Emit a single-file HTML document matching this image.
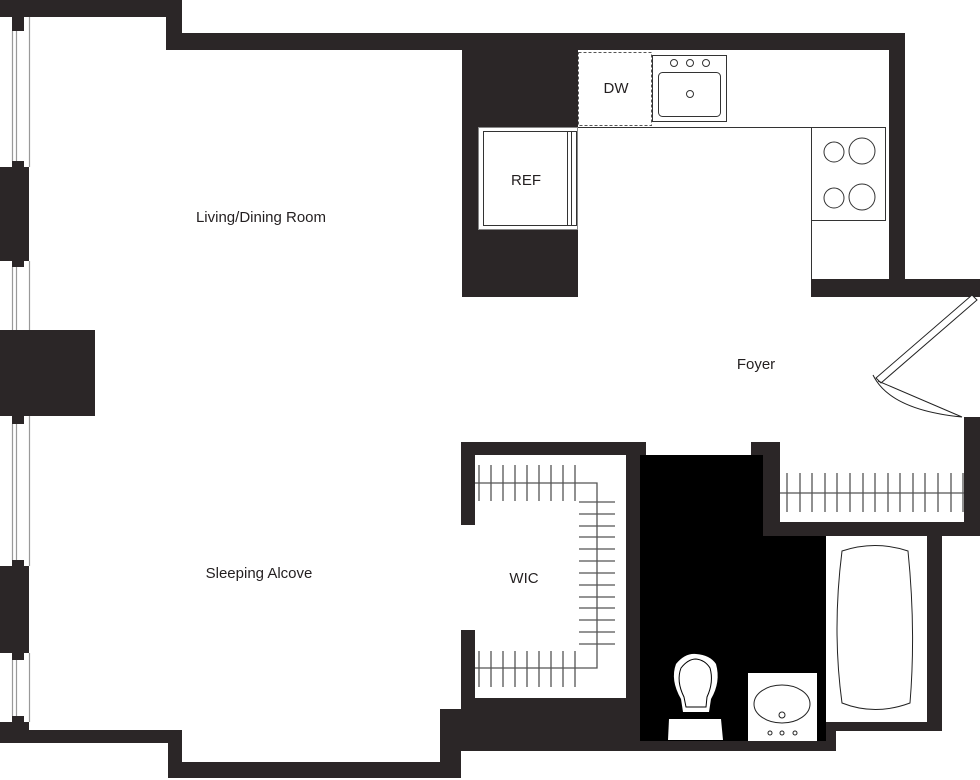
<!DOCTYPE html>
<html><head><meta charset="utf-8"><style>
html,body{margin:0;padding:0;background:#fff;width:980px;height:780px;overflow:hidden}
svg{display:block}
text{font-family:"Liberation Sans",sans-serif;fill:#231f20}
</style></head><body>
<svg width="980" height="780" viewBox="0 0 980 780" xmlns="http://www.w3.org/2000/svg">
<g fill="#2b2627">
<rect x="0" y="0" width="182" height="17"/>
<rect x="166" y="17" width="16" height="33"/>
<rect x="166" y="33" width="739" height="17"/>
<rect x="889" y="33" width="16" height="264"/>
<rect x="811" y="279" width="169" height="18"/>
<rect x="462" y="50" width="116" height="247"/>
<rect x="12" y="17" width="12" height="14"/>
<rect x="0" y="167" width="29" height="94"/>
<rect x="12" y="161" width="12" height="106"/>
<rect x="0" y="330" width="95" height="86"/>
<rect x="12" y="416" width="12" height="8"/>
<rect x="0" y="566" width="29" height="87"/>
<rect x="12" y="560" width="12" height="100"/>
<rect x="0" y="722" width="29" height="21"/>
<rect x="12" y="716" width="12" height="8"/>
<rect x="29" y="730" width="153" height="13"/>
<rect x="168" y="730" width="14" height="48"/>
<rect x="168" y="762" width="284" height="16"/>
<rect x="440" y="709" width="21" height="69"/>
<rect x="461" y="442" width="14" height="83"/>
<rect x="461" y="630" width="14" height="121"/>
<rect x="461" y="442" width="185" height="13"/>
<rect x="626" y="442" width="14" height="309"/>
<rect x="461" y="698" width="179" height="53"/>
<rect x="640" y="741" width="196" height="10"/>
<rect x="826" y="722" width="10" height="29"/>
<rect x="751" y="442" width="29" height="13"/>
<rect x="763" y="442" width="17" height="94"/>
<rect x="763" y="522" width="217" height="14"/>
<rect x="964" y="417" width="16" height="119"/>
<rect x="927" y="522" width="15" height="209"/>
<rect x="826" y="722" width="116" height="9"/>
</g>
<path d="M640 455H763V536H826V741H640Z" fill="#000"/>
<g stroke="#999" stroke-width="1.2">
<line x1="12.5" y1="31" x2="12.5" y2="161"/><line x1="16.5" y1="31" x2="16.5" y2="161"/><line x1="29.5" y1="17" x2="29.5" y2="167"/>
<line x1="12.5" y1="267" x2="12.5" y2="330"/><line x1="16.5" y1="267" x2="16.5" y2="330"/><line x1="29.5" y1="261" x2="29.5" y2="330"/>
<line x1="12.5" y1="424" x2="12.5" y2="560"/><line x1="16.5" y1="424" x2="16.5" y2="560"/><line x1="29.5" y1="416" x2="29.5" y2="566"/>
<line x1="12.5" y1="660" x2="12.5" y2="716"/><line x1="16.5" y1="660" x2="16.5" y2="716"/><line x1="29.5" y1="653" x2="29.5" y2="722"/>
</g>
<g fill="none" stroke="#333" stroke-width="1">
<rect x="478.5" y="127.5" width="99" height="102" fill="#fff" stroke="#888"/>
<rect x="483.5" y="131.5" width="93" height="94"/>
<line x1="567.5" y1="131" x2="567.5" y2="226"/><line x1="571.5" y1="131" x2="571.5" y2="226"/>
<rect x="578.5" y="52.5" width="73" height="73" stroke-dasharray="3,2" stroke="#555"/>
<rect x="652.5" y="55.5" width="74" height="66"/>
<rect x="658.5" y="72.5" width="62" height="44" rx="4"/>
<circle cx="674" cy="63" r="3.5"/><circle cx="690" cy="63" r="3.5"/><circle cx="706" cy="63" r="3.5"/>
<circle cx="690" cy="94" r="3.5"/>
<line x1="578" y1="127.5" x2="886" y2="127.5"/>
<rect x="811.5" y="127.5" width="74" height="93"/>
<line x1="811.5" y1="220" x2="811.5" y2="279"/>
<circle cx="834" cy="152" r="10"/><circle cx="862" cy="151" r="13"/>
<circle cx="834" cy="198" r="10"/><circle cx="862" cy="197" r="13"/>
</g>
<g fill="none" stroke="#222" stroke-width="1">
<polygon points="972,295 977,300 881,383 876,378" fill="#fff"/>
<path d="M873,375 Q890,410 962,417 L878,381"/>
</g>
<g stroke="#555" stroke-width="1.3" fill="none">
<polyline points="475,483 597,483 597,668 475,668"/>
<g id="tt"><line x1="479" y1="465" x2="479" y2="501"/><line x1="491" y1="465" x2="491" y2="501"/><line x1="503" y1="465" x2="503" y2="501"/><line x1="515" y1="465" x2="515" y2="501"/><line x1="527" y1="465" x2="527" y2="501"/><line x1="539" y1="465" x2="539" y2="501"/><line x1="551" y1="465" x2="551" y2="501"/><line x1="563" y1="465" x2="563" y2="501"/><line x1="575" y1="465" x2="575" y2="501"/></g>
<use href="#tt" transform="translate(0,186)"/>
<line x1="579" y1="502" x2="615" y2="502"/><line x1="579" y1="514" x2="615" y2="514"/><line x1="579" y1="526" x2="615" y2="526"/><line x1="579" y1="537" x2="615" y2="537"/><line x1="579" y1="549" x2="615" y2="549"/><line x1="579" y1="561" x2="615" y2="561"/><line x1="579" y1="573" x2="615" y2="573"/><line x1="579" y1="585" x2="615" y2="585"/><line x1="579" y1="597" x2="615" y2="597"/><line x1="579" y1="608" x2="615" y2="608"/><line x1="579" y1="620" x2="615" y2="620"/><line x1="579" y1="632" x2="615" y2="632"/><line x1="579" y1="644" x2="615" y2="644"/>
<line x1="780" y1="493" x2="964" y2="493"/>
<g id="ft"><line x1="787" y1="473" x2="787" y2="512"/><line x1="800" y1="473" x2="800" y2="512"/><line x1="812" y1="473" x2="812" y2="512"/><line x1="825" y1="473" x2="825" y2="512"/><line x1="837" y1="473" x2="837" y2="512"/><line x1="850" y1="473" x2="850" y2="512"/><line x1="863" y1="473" x2="863" y2="512"/></g>
<use href="#ft" transform="translate(88,0)"/>
<line x1="963" y1="473" x2="963" y2="512"/>
</g>
<rect x="827" y="536" width="100" height="186" fill="#fff"/>
<path d="M842,551 Q875,540 908,551 Q916,630 910,703 Q875,716 842,703 Q832,630 842,551Z" fill="none" stroke="#222"/>
<path d="M669,719 H721 L723,740 H668Z" fill="#fff"/>
<path d="M683,712 L681,699 Q670,680 676,664 Q685,653 696,654 Q710,655 716,664 Q721,682 711,699 L709,712Z" fill="#fff"/>
<path d="M686,707 L684,697 Q676,681 681,668 Q688,659 696,659 Q705,660 710,668 Q714,682 707,697 L706,707Z" fill="none" stroke="#000"/>
<rect x="748" y="673" width="69" height="68" fill="#fff"/>
<g fill="none" stroke="#222">
<ellipse cx="782" cy="704" rx="28" ry="19"/><circle cx="782" cy="715" r="3"/>
<circle cx="770" cy="733" r="2"/><circle cx="782" cy="733" r="2"/><circle cx="795" cy="733" r="2"/>
</g>
<text x="261" y="222" font-size="15" text-anchor="middle">Living/Dining Room</text>
<text x="259" y="578" font-size="15" text-anchor="middle">Sleeping Alcove</text>
<text x="756" y="369" font-size="15" text-anchor="middle">Foyer</text>
<text x="524" y="583" font-size="15" text-anchor="middle">WIC</text>
<text x="526" y="185" font-size="15" text-anchor="middle">REF</text>
<text x="616" y="93" font-size="15" text-anchor="middle">DW</text>
</svg>
</body></html>
